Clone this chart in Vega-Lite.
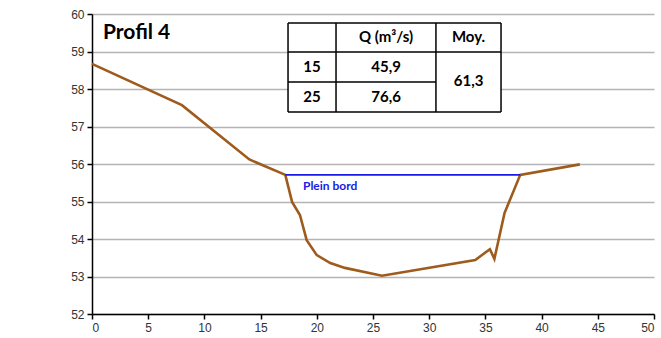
{
  "$schema": "https://vega.github.io/schema/vega-lite/v6.json",
  "autosize": "none",
  "width": 562,
  "height": 300,
  "padding": {"left": 92, "top": 14, "right": 7, "bottom": 24},
  "background": "white",
  "config": {
    "view": {"stroke": null},
    "axis": {"labelFont": "Liberation Sans", "labelFontSize": 12, "labelColor": "#333333", "title": null, "labelOverlap": false, "domainColor": "#000000", "domainWidth": 1.5, "tickColor": "#000000", "tickWidth": 1.5, "tickSize": 5, "labelPadding": 3},
    "axisX": {"grid": false, "tickCount": 10},
    "axisY": {"grid": true, "gridColor": "#b4b4b4", "gridWidth": 1.5, "tickCount": 8}
  },
  "datasets": {
    "profil": [
      {"x": 0, "y": 58.67},
      {"x": 8.0, "y": 57.57},
      {"x": 14.0, "y": 56.12},
      {"x": 17.2, "y": 55.71},
      {"x": 17.8, "y": 54.99},
      {"x": 18.5, "y": 54.64},
      {"x": 19.1, "y": 53.97},
      {"x": 20.0, "y": 53.57},
      {"x": 21.2, "y": 53.36},
      {"x": 22.5, "y": 53.23},
      {"x": 25.8, "y": 53.02},
      {"x": 34.1, "y": 53.44},
      {"x": 35.4, "y": 53.73},
      {"x": 35.8, "y": 53.47},
      {"x": 36.7, "y": 54.69},
      {"x": 38.1, "y": 55.71},
      {"x": 43.4, "y": 55.99}
    ],
    "plein": [
      {"x": 17.2, "y": 55.71},
      {"x": 38.1, "y": 55.71}
    ],
    "tablebox": [
      {"x": 17.44, "x2": 36.39, "y": 57.387, "y2": 59.76}
    ],
    "tablelines": [
      {"x": 17.44, "x2": 36.39, "y": 59.76, "y2": 59.76},
      {"x": 17.44, "x2": 36.39, "y": 58.987, "y2": 58.987},
      {"x": 17.44, "x2": 30.60, "y": 58.187, "y2": 58.187},
      {"x": 17.44, "x2": 36.39, "y": 57.387, "y2": 57.387},
      {"x": 17.44, "x2": 17.44, "y": 57.387, "y2": 59.76},
      {"x": 21.71, "x2": 21.71, "y": 57.387, "y2": 59.76},
      {"x": 30.60, "x2": 30.60, "y": 57.387, "y2": 59.76},
      {"x": 36.39, "x2": 36.39, "y": 57.387, "y2": 59.76}
    ],
    "cells": [
      {"x": 26.16, "y": 59.387, "text": "Q (m³/s)"},
      {"x": 33.50, "y": 59.387, "text": "Moy."},
      {"x": 19.57, "y": 58.587, "text": "15"},
      {"x": 26.16, "y": 58.587, "text": "45,9"},
      {"x": 19.57, "y": 57.787, "text": "25"},
      {"x": 26.16, "y": 57.787, "text": "76,6"},
      {"x": 33.50, "y": 58.22, "text": "61,3"}
    ],
    "titre": [{"x": 0.98, "y": 59.49, "text": "Profil 4"}],
    "pleinlabel": [{"x": 18.77, "y": 55.41, "text": "Plein bord"}]
  },
  "layer": [
    {
      "data": {"name": "profil"},
      "mark": {"type": "line", "color": "#9e5b1c", "strokeWidth": 2.6},
      "encoding": {
        "x": {"field": "x", "type": "quantitative", "scale": {"domain": [0, 50], "nice": false}},
        "y": {"field": "y", "type": "quantitative", "scale": {"domain": [52, 60], "nice": false, "zero": false}}
      }
    },
    {
      "data": {"name": "plein"},
      "mark": {"type": "line", "color": "#1a1ae6", "strokeWidth": 1.6},
      "encoding": {
        "x": {"field": "x", "type": "quantitative"},
        "y": {"field": "y", "type": "quantitative"}
      }
    },
    {
      "data": {"name": "pleinlabel"},
      "mark": {"type": "text", "color": "#1a1ae6", "font": "Lato", "fontWeight": "bold", "fontSize": 12, "align": "left", "baseline": "middle"},
      "encoding": {
        "x": {"field": "x", "type": "quantitative"},
        "y": {"field": "y", "type": "quantitative"},
        "text": {"field": "text"}
      }
    },
    {
      "data": {"name": "titre"},
      "mark": {"type": "text", "color": "#000000", "font": "Lato", "fontWeight": "bold", "fontSize": 21, "align": "left", "baseline": "middle"},
      "encoding": {
        "x": {"field": "x", "type": "quantitative"},
        "y": {"field": "y", "type": "quantitative"},
        "text": {"field": "text"}
      }
    },
    {
      "data": {"name": "tablebox"},
      "mark": {"type": "rect", "fill": "white"},
      "encoding": {
        "x": {"field": "x", "type": "quantitative"},
        "x2": {"field": "x2"},
        "y": {"field": "y", "type": "quantitative"},
        "y2": {"field": "y2"}
      }
    },
    {
      "data": {"name": "tablelines"},
      "mark": {"type": "rule", "color": "#000000", "strokeWidth": 1.5},
      "encoding": {
        "x": {"field": "x", "type": "quantitative"},
        "x2": {"field": "x2"},
        "y": {"field": "y", "type": "quantitative"},
        "y2": {"field": "y2"}
      }
    },
    {
      "data": {"name": "cells"},
      "mark": {"type": "text", "color": "#000000", "font": "Lato", "fontWeight": "bold", "fontSize": 15, "align": "center", "baseline": "middle"},
      "encoding": {
        "x": {"field": "x", "type": "quantitative"},
        "y": {"field": "y", "type": "quantitative"},
        "text": {"field": "text"}
      }
    }
  ]
}
